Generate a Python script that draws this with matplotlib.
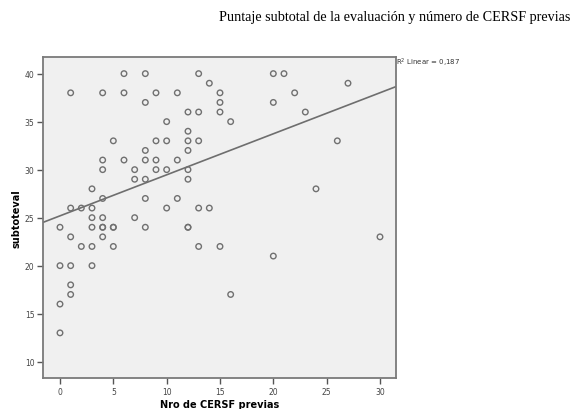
import numpy as np
import matplotlib.pyplot as plt

# Nro de CERSF previas (x) and subtoteval (y)
cersf = [0, 0, 0, 0,
         1, 1, 1, 1, 1, 1,
         2, 2,
         3, 3, 3, 3, 3, 3,
         4, 4, 4, 4, 4, 4, 4, 4,
         5, 5, 5, 5,
         6, 6, 6,
         7, 7, 7,
         8, 8, 8, 8, 8, 8, 8,
         9, 9, 9, 9,
         10, 10, 10, 10,
         11, 11, 11,
         12, 12, 12, 12, 12, 12, 12, 12,
         13, 13, 13, 13, 13,
         14, 14,
         15, 15, 15, 15,
         16, 16,
         20, 20, 20,
         21, 22, 23, 24, 26, 27, 30]
subtoteval = [24, 20, 16, 13,
              38, 26, 23, 20, 18, 17,
              26, 22,
              28, 26, 25, 24, 22, 20,
              38, 31, 30, 27, 25, 24, 24, 23,
              33, 24, 24, 22,
              40, 38, 31,
              30, 29, 25,
              40, 37, 32, 31, 29, 27, 24,
              38, 33, 31, 30,
              35, 33, 30, 26,
              38, 31, 27,
              36, 34, 33, 32, 30, 29, 24, 24,
              40, 36, 33, 26, 22,
              39, 26,
              38, 37, 36, 22,
              35, 17,
              40, 37, 21,
              40, 38, 36, 28, 33, 39, 23]

title = "Puntaje subtotal de la evaluación y número de CERSF previas"
r2_label = "R$^2$ Linear = 0,187"

x = np.array(cersf)
y = np.array(subtoteval)

fig = plt.figure(figsize=(5.71, 4.10), dpi=100)
ax = fig.add_axes([0.0748, 0.0749, 0.6187, 0.7829])
ax.set_facecolor("#f0f0f0")

ax.scatter(x, y, s=16, facecolors="none", edgecolors="#707070", linewidths=1.0, zorder=3)

xlim = (-1.62, 31.5)
ylim = (8.27, 41.7)
slope, icpt = np.polyfit(x, y, 1)
xs = np.array(xlim)
ax.plot(xs, icpt + slope * xs, color="#6e6e6e", lw=1.2, zorder=2)

ax.set_xlim(*xlim)
ax.set_ylim(*ylim)
ax.set_xticks([0, 5, 10, 15, 20, 25, 30])
ax.set_yticks([10, 15, 20, 25, 30, 35, 40])
ax.tick_params(labelsize=5.5, length=4, width=1, color="#555555", labelcolor="#444444", pad=2)
for s in ax.spines.values():
    s.set_color("#7a7a7a")
    s.set_linewidth(1.3)

ax.set_xlabel("Nro de CERSF previas", fontsize=7, fontweight="bold", labelpad=2.5)
ax.set_ylabel("subtoteval", fontsize=7, fontweight="bold", labelpad=2)

ax.text(1.0, 0.985, r2_label, transform=ax.transAxes, fontsize=5, color="#333333",
        ha="left", va="center")

fig.text(0.999, 0.958, title, family="Liberation Serif", fontsize=10.2, ha="right", va="center")

fig.savefig("out.png", dpi=100)
